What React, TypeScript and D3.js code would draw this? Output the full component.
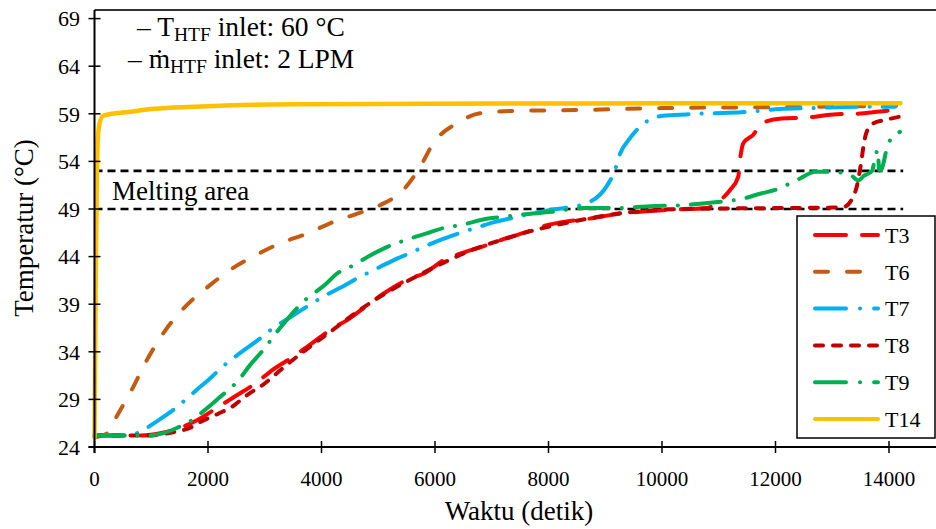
import React from "react";
import * as d3 from "d3";

const W = 936;
const H = 529;

const seriesNames = ["T3", "T6", "T7", "T8", "T9", "T14"];

const t3Time = [0, 800, 1200, 1500, 1771, 2181, 2418, 2886, 3093, 3503, 3739, 4208, 4444, 4855, 5089, 5559, 5794, 6206, 6440, 6911, 7145, 7615, 7850, 8320, 8613, 9260, 10083, 10788, 11021, 11200, 11344, 11374, 11433, 11609, 11757, 12110, 12550, 13079, 13400, 13930, 14150];
const t3Temp = [25.2, 25.2, 25.5, 26.0, 26.7, 28.2, 29.1, 30.9, 31.9, 33.5, 34.5, 36.5, 37.3, 39.1, 40.1, 41.7, 42.2, 43.8, 44.3, 45.2, 45.7, 46.6, 47.1, 47.7, 47.9, 48.5, 48.9, 49.1, 49.9, 51.0, 52.4, 54.1, 55.9, 56.8, 58.0, 58.5, 58.6, 58.96, 59.0, 59.3, 59.4];

const t6Time = [0, 215, 390, 655, 920, 1242, 1625, 2035, 2388, 2858, 3269, 3740, 4150, 4620, 5031, 5441, 5736, 5970, 6382, 6793, 7375, 8555, 10000, 12000, 14200];
const t6Temp = [25.0, 25.4, 27.2, 30.0, 33.1, 36.2, 38.9, 41.0, 42.6, 44.2, 45.4, 46.4, 47.5, 48.5, 49.4, 51.0, 53.4, 55.9, 58.0, 59.05, 59.3, 59.4, 59.6, 59.7, 59.85];

const t7Time = [0, 600, 860, 1124, 1389, 1800, 2035, 2270, 2505, 2916, 3150, 3415, 3651, 4092, 4356, 4620, 4855, 5266, 5530, 5794, 6030, 6499, 6763, 7028, 7322, 7615, 8026, 8379, 8673, 9026, 9172, 9260, 9406, 9758, 10023, 10317, 10611, 11168, 11500, 12080, 12660, 13519, 14105];
const t7Temp = [25.2, 25.2, 25.8, 26.8, 27.9, 30.0, 31.2, 32.5, 33.6, 35.4, 36.5, 37.5, 38.4, 40.0, 40.8, 41.7, 42.4, 43.6, 44.3, 45.0, 45.6, 46.6, 47.1, 47.6, 48.0, 48.4, 48.9, 49.2, 49.6, 51.4, 53.1, 54.8, 56.2, 58.3, 58.8, 58.9, 59.0, 59.1, 59.2, 59.5, 59.6, 59.75, 59.75];

const t8Time = [0, 600, 948, 1242, 1418, 1713, 1824, 2181, 2418, 2652, 3004, 3300, 3700, 4200, 4700, 5200, 5700, 6200, 6700, 7200, 7700, 8200, 8700, 9200, 9700, 10300, 11000, 12000, 13000, 13195, 13371, 13430, 13477, 13500, 13548, 13600, 13724, 13930, 14190];
const t8Temp = [25.2, 25.2, 25.2, 25.4, 25.6, 26.1, 26.5, 27.5, 28.2, 29.3, 30.7, 32.2, 34.1, 36.3, 38.5, 40.4, 42.0, 43.5, 44.8, 45.8, 46.7, 47.4, 48.0, 48.5, 48.8, 49.0, 49.05, 49.1, 49.15, 49.2, 50.3, 51.3, 52.7, 53.5, 55.5, 57.0, 58.0, 58.35, 58.7];

const t9Time = [0, 900, 1184, 1450, 1713, 1947, 2181, 2534, 2740, 2946, 3269, 3651, 4092, 4268, 4502, 4912, 5149, 5413, 5882, 6146, 6440, 6940, 7233, 7498, 8056, 8608, 9200, 9788, 10347, 10933, 11432, 11727, 11991, 12432, 12696, 12990, 13313, 13460, 13560, 13700, 13760, 13800, 13830, 13870, 13988, 14193];
const t9Temp = [25.2, 25.2, 25.4, 26.0, 26.8, 27.9, 29.1, 31.0, 32.6, 34.0, 36.5, 39.1, 41.2, 42.2, 42.9, 44.3, 45.0, 45.6, 46.5, 47.0, 47.3, 48.0, 48.2, 48.4, 48.7, 49.1, 49.1, 49.3, 49.4, 49.7, 50.1, 50.6, 51.0, 52.2, 52.9, 52.9, 52.6, 52.0, 52.5, 53.0, 54.5, 55.2, 53.0, 53.2, 55.9, 57.1];

const t14Time = [0, 20, 40, 60, 90, 150, 300, 600, 1000, 2000, 3500, 6000, 10000, 14200];
const t14Temp = [25.0, 40.0, 52.0, 56.5, 58.0, 58.8, 59.0, 59.2, 59.5, 59.8, 60.0, 60.05, 60.1, 60.1];

const xTicks = [0, 2000, 4000, 6000, 8000, 10000, 12000, 14000];
const yTicks = [24, 29, 34, 39, 44, 49, 54, 59, 64, 69];
const meltingBounds = [49, 53];

const colors = ["#FF0000", "#C55A11", "#00B0F0", "#C00000", "#00B050", "#FFC000"];
const dashes = ["30 16", "13 19", "30 13 0.1 13", "8 10", "30 13 0.1 13", ""];
const legendDashes = ["31 16", "13 19", "31 14 0.1 14", "8 10", "31 14 0.1 14", ""];

const seriesTimes = [t3Time, t6Time, t7Time, t8Time, t9Time, t14Time];
const seriesTemps = [t3Temp, t6Temp, t7Temp, t8Temp, t9Temp, t14Temp];

const FONT = "'Liberation Serif', 'Times New Roman', serif";

export default function App() {
  const x = d3.scaleLinear().domain([0, 14000]).range([94.5, 889]);
  const y = d3.scaleLinear().domain([24, 69]).range([447, 18.6]);
  const line = d3
    .line<[number, number]>()
    .x((d) => x(d[0]))
    .y((d) => y(d[1]))
    .curve(d3.curveMonotoneX);

  const plotLeft = x(0);
  const plotRight = W;
  const plotBottom = y(24);
  const plotTop = 10;

  return (
    <svg width={W} height={H} style={{ position: "absolute", left: 0, top: 0, background: "#fff" }}>
      <rect x={0} y={0} width={W} height={H} fill="#fff" />
      <line x1={plotLeft} x2={plotRight} y1={plotTop} y2={plotTop} stroke="#333" strokeWidth={2} />

      {meltingBounds.map((v) => (
        <line key={v} x1={plotLeft} x2={x(14250)} y1={y(v)} y2={y(v)} stroke="#000" strokeWidth={2.6} strokeDasharray="8 5" />
      ))}

      {seriesNames.map((name, i) => {
        const pts = seriesTimes[i].map((t, k) => [t, seriesTemps[i][k]] as [number, number]);
        return (
          <path
            key={name}
            d={line(pts) || ""}
            fill="none"
            stroke={colors[i]}
            strokeWidth={name === "T14" ? 4.5 : 4}
            strokeLinecap="round"
            strokeLinejoin="round"
            strokeDasharray={dashes[i] || undefined}
          />
        );
      })}

      <line x1={plotLeft} x2={plotLeft} y1={plotTop} y2={plotBottom + 6} stroke="#000" strokeWidth={2} />
      <line x1={plotLeft - 6} x2={plotRight} y1={plotBottom} y2={plotBottom} stroke="#000" strokeWidth={2} />
      {yTicks.map((v) => (
        <g key={v}>
          <line x1={plotLeft - 6} x2={plotLeft + 6} y1={y(v)} y2={y(v)} stroke="#000" strokeWidth={1.5} />
          <text x={80} y={y(v)} dy="0.35em" textAnchor="end" fontFamily={FONT} fontSize={22} fill="#000">
            {v}
          </text>
        </g>
      ))}
      {xTicks.map((v) => (
        <g key={v}>
          <line x1={x(v)} x2={x(v)} y1={plotBottom - 6} y2={plotBottom + 6} stroke="#000" strokeWidth={1.5} />
          <text x={x(v)} y={486} textAnchor="middle" fontFamily={FONT} fontSize={21} fill="#000">
            {v}
          </text>
        </g>
      ))}

      <text x={519} y={520} textAnchor="middle" fontFamily={FONT} fontSize={27} fill="#000">
        Waktu (detik)
      </text>
      <text transform="translate(33,228) rotate(-90)" textAnchor="middle" fontFamily={FONT} fontSize={27} fill="#000">
        Temperatur (°C)
      </text>

      <text x={112} y={200} fontFamily={FONT} fontSize={27} fill="#000">
        Melting area
      </text>

      <text x={137} y={36} fontFamily={FONT} fontSize={27.5} fill="#000">
        <tspan>– T</tspan>
        <tspan fontSize={19.5} dy={5}>HTF</tspan>
        <tspan dy={-5}> inlet: 60 °C</tspan>
      </text>
      <text x={128} y={68} fontFamily={FONT} fontSize={27.5} fill="#000">
        <tspan>– ṁ</tspan>
        <tspan fontSize={19.5} dy={5}>HTF</tspan>
        <tspan dy={-5}> inlet: 2 LPM</tspan>
      </text>

      <rect x={797} y={216} width={138} height={222} fill="#fff" stroke="#000" strokeWidth={1.5} />
      {seriesNames.map((name, i) => {
        const ly = 235 + i * 36.8;
        return (
          <g key={name}>
            <line
              x1={815}
              x2={878}
              y1={ly}
              y2={ly}
              stroke={colors[i]}
              strokeWidth={4}
              strokeLinecap="round"
              strokeDasharray={legendDashes[i] || undefined}
            />
            <text x={885} y={ly} dy="0.35em" fontFamily={FONT} fontSize={22} fill="#000">
              {name}
            </text>
          </g>
        );
      })}
    </svg>
  );
}
